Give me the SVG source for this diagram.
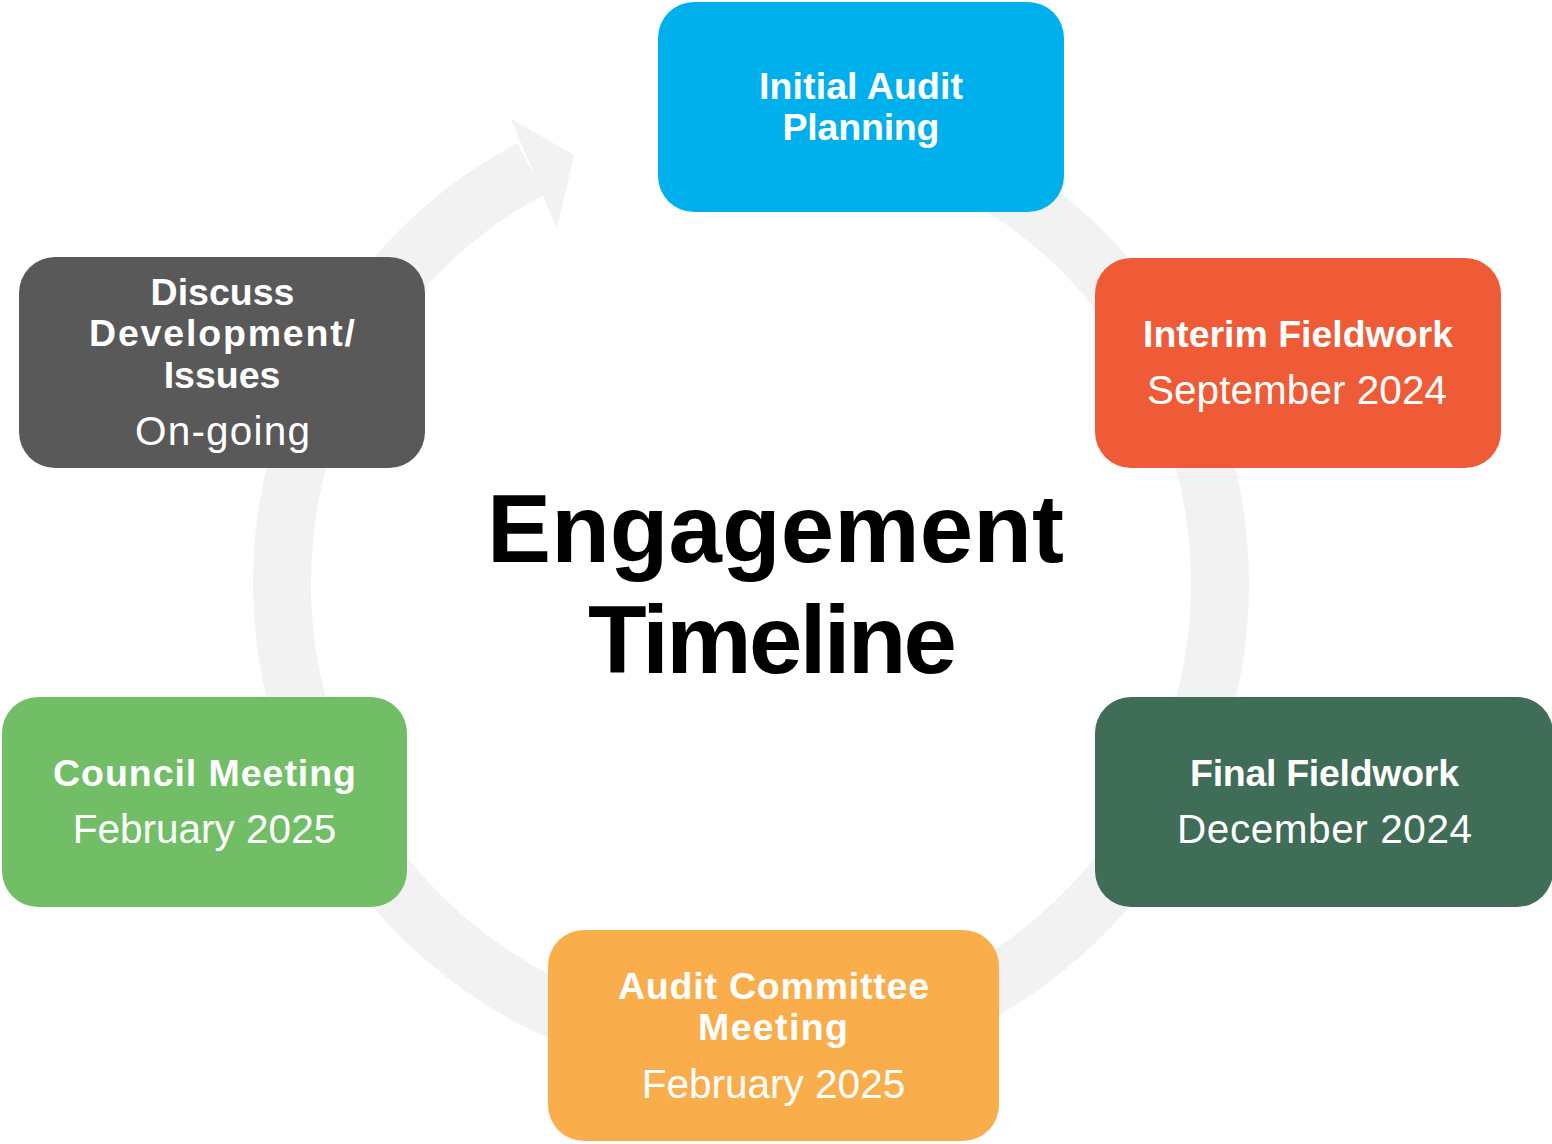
<svg xmlns="http://www.w3.org/2000/svg" width="1552" height="1144" viewBox="0 0 1552 1144">
  <style>
    .box { stroke: none; }
    .hd { font-family: "Liberation Sans", Arial, sans-serif; font-weight: bold; font-size: 37.5px; fill: #ffffff; text-anchor: middle; }
    .sub { font-family: "Liberation Sans", Arial, sans-serif; font-weight: normal; font-size: 40.5px; fill: #ffffff; text-anchor: middle; }
    .title { font-family: "Liberation Sans", Arial, sans-serif; font-weight: bold; font-size: 96px; fill: #000000; text-anchor: middle; }
  </style>
  <rect width="1552" height="1144" fill="#ffffff"/>

  <!-- circular cycle arrow behind the boxes -->
  <g id="connectors">
    <path d="M 751 114 A 469 469 0 1 1 530.8 168.9" fill="none" stroke="#F2F2F2" stroke-width="58"/>
    <polygon points="511,119 574,155 557,229" fill="#F2F2F2"/>
  </g>

  <g id="initial-audit-planning">
    <rect class="box" x="658" y="2" width="406" height="210" rx="36" fill="#00B0EC"/>
    <text class="hd" x="861" y="99" textLength="204" lengthAdjust="spacing">Initial Audit</text>
    <text class="hd" x="861" y="140" textLength="157" lengthAdjust="spacing">Planning</text>
  </g>

  <g id="interim-fieldwork">
    <rect class="box" x="1095" y="258" width="406" height="210" rx="36" fill="#EF5B37"/>
    <text class="hd" x="1298" y="347" textLength="310" lengthAdjust="spacing">Interim Fieldwork</text>
    <text class="sub" x="1297" y="404" textLength="300" lengthAdjust="spacing">September 2024</text>
  </g>

  <g id="final-fieldwork">
    <rect class="box" x="1095" y="697" width="458" height="210" rx="36" fill="#406D58"/>
    <text class="hd" x="1324.5" y="786" textLength="269" lengthAdjust="spacing">Final Fieldwork</text>
    <text class="sub" x="1324.5" y="843" textLength="295" lengthAdjust="spacing">December 2024</text>
  </g>

  <g id="audit-committee-meeting">
    <rect class="box" x="548" y="930" width="451" height="211" rx="36" fill="#F9AE4B"/>
    <text class="hd" x="773.5" y="999" textLength="311" lengthAdjust="spacing">Audit Committee</text>
    <text class="hd" x="773" y="1040" textLength="150" lengthAdjust="spacing">Meeting</text>
    <text class="sub" x="773.5" y="1098">February 2025</text>
  </g>

  <g id="council-meeting">
    <rect class="box" x="2" y="697" width="405" height="210" rx="36" fill="#72BE67"/>
    <text class="hd" x="204.5" y="786" textLength="303" lengthAdjust="spacing">Council Meeting</text>
    <text class="sub" x="204.5" y="843">February 2025</text>
  </g>

  <g id="discuss-development">
    <rect class="box" x="19" y="257" width="406" height="211" rx="36" fill="#595959"/>
    <text class="hd" x="222.5" y="305">Discuss</text>
    <text class="hd" x="222" y="346" textLength="266" lengthAdjust="spacing">Development/</text>
    <text class="hd" x="222" y="388">Issues</text>
    <text class="sub" x="222.5" y="445" textLength="175" lengthAdjust="spacing">On-going</text>
  </g>

  <g id="engagement-timeline">
    <text class="title" x="775.5" y="562" textLength="577" lengthAdjust="spacing">Engagement</text>
    <text class="title" x="772.5" y="673" textLength="369" lengthAdjust="spacing">Timeline</text>
  </g>
</svg>
